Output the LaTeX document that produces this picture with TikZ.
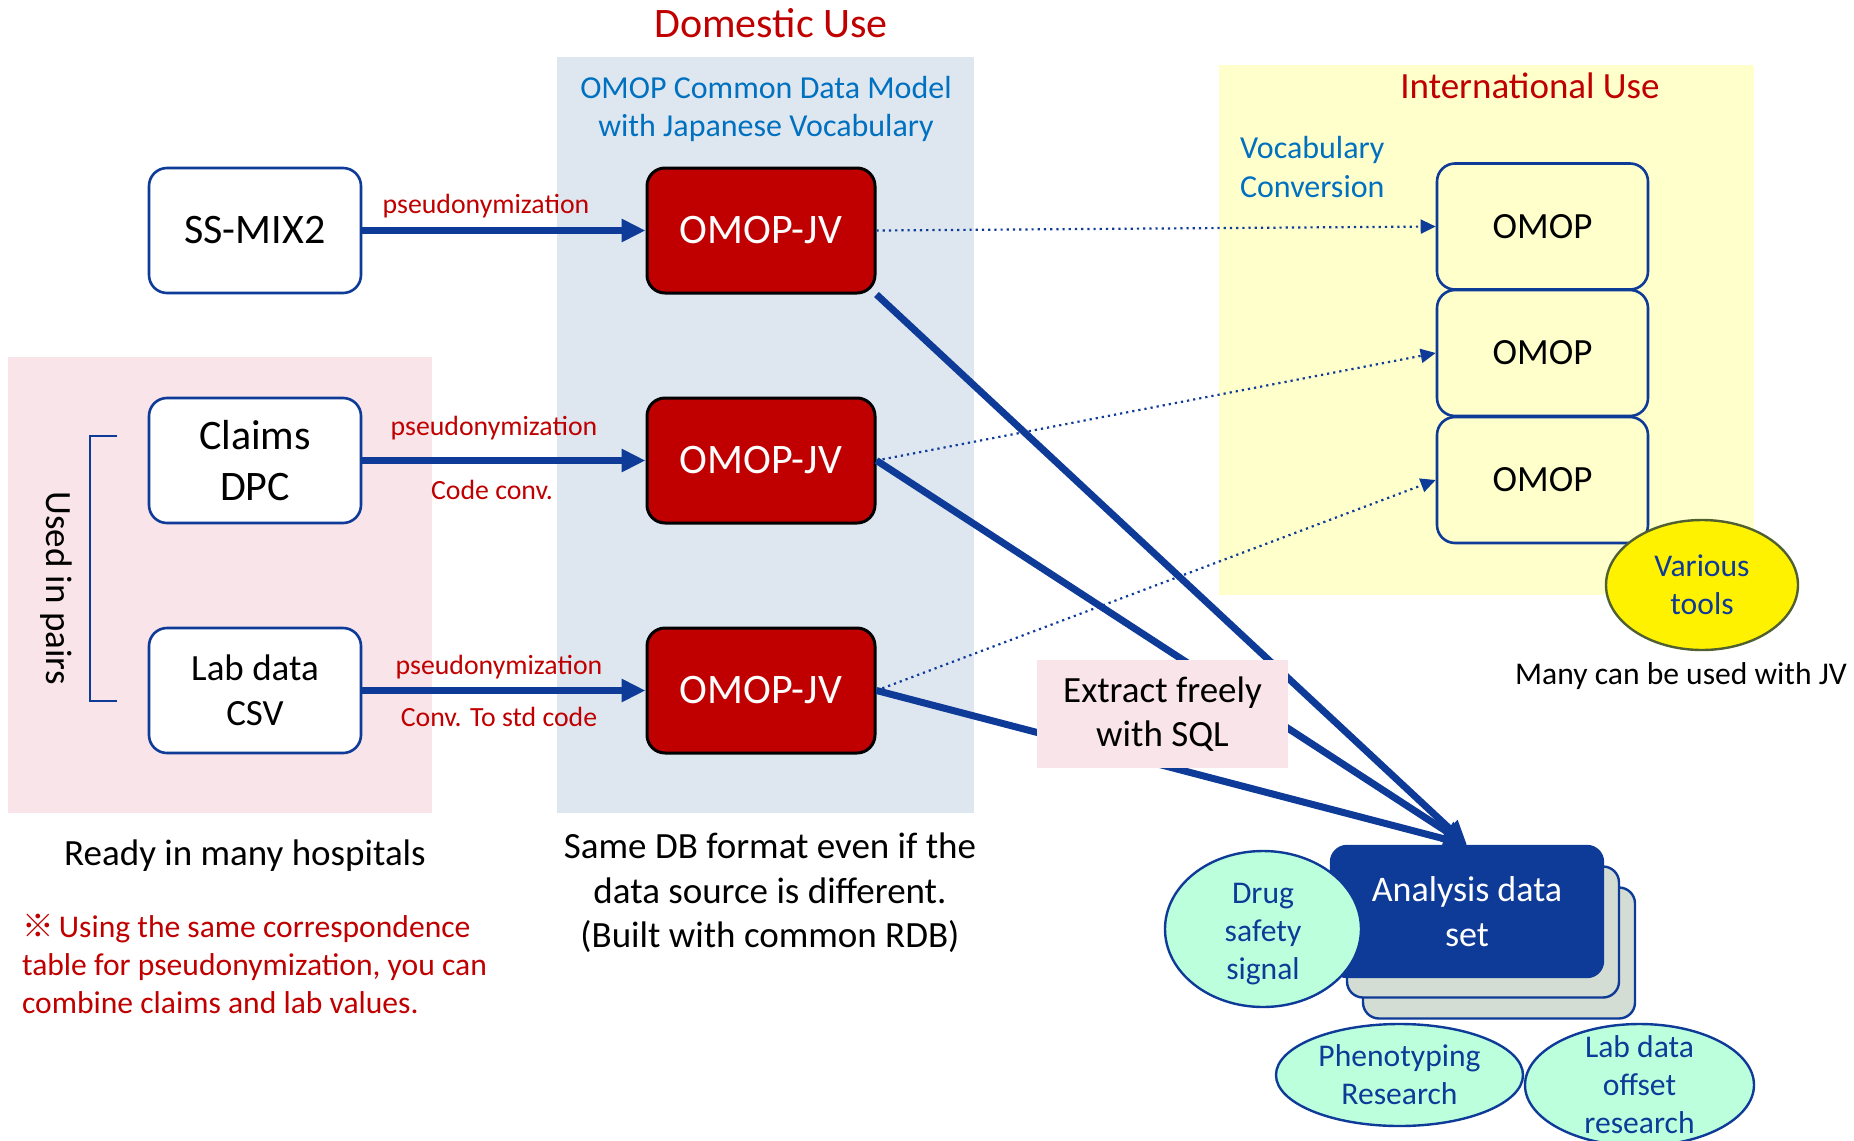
\documentclass[tikz,border=0pt]{standalone}
\usepackage{fontspec}
\setmainfont{Carlito}
\newfontfamily\cjkfont{Noto Sans CJK JP}
\usepackage{tikz}
\usetikzlibrary{shapes.geometric,arrows.meta,calc}
\definecolor{Navy}    {RGB}{14,58,152}
\definecolor{DarkRed} {RGB}{192,0,0}
\definecolor{SkyText} {RGB}{0,112,192}
\definecolor{PanBlue} {RGB}{222,231,240}
\definecolor{PanPink} {RGB}{248,228,233}
\definecolor{PanYel}  {RGB}{255,255,204}
\definecolor{MintFill}{RGB}{187,255,221}
\definecolor{StackBg} {RGB}{211,221,211}
\definecolor{ToolLine}{RGB}{80,96,48}
\newcommand{\fsz}[2]{\fontsize{#1pt}{#2pt}\selectfont}
\tikzset{
  nd_src/.style={
    rectangle, rounded corners=9pt,
    draw=Navy, line width=1.3pt, fill=white,
    minimum width=106pt, minimum height=62.5pt,
    align=center, font=\fsz{21}{25.2}},
  nd_jv/.style={
    rectangle, rounded corners=9pt,
    draw=black, line width=1.5pt, fill=DarkRed, text=white,
    minimum width=114pt, minimum height=62.5pt,
    align=center, font=\fsz{21}{25.2}},
  nd_omop/.style={
    rectangle, rounded corners=9pt,
    draw=Navy, line width=1.3pt, fill=PanYel,
    minimum width=105.5pt, minimum height=63pt,
    align=center, font=\fsz{18.5}{22.2}},
  nd_tool/.style={
    ellipse, draw=ToolLine, line width=1.2pt, fill=yellow,
    minimum width=96pt, minimum height=65pt, inner sep=0pt,
    align=center, text=Navy, font=\fsz{15.8}{19}},
  nd_use/.style={
    ellipse, draw=Navy, line width=1.2pt, fill=MintFill, inner sep=0pt},
  use_txt/.style={
    align=center, text=Navy, font=\fsz{15.8}{19}, inner sep=0pt},
  nd_set/.style={
    rectangle, rounded corners=8pt,
    draw=Navy, line width=1.2pt, fill=StackBg,
    minimum width=136pt, minimum height=65.5pt},
  nd_sql/.style={
    rectangle, fill=PanPink,
    minimum width=125.5pt, minimum height=54pt,
    align=center, font=\fsz{18.5}{22.2}},
  ttl/.style={text=DarkRed, font=\fsz{21}{25}},
  subhd/.style={text=SkyText, align=center, font=\fsz{16}{19.2}},
  txt/.style={align=center, font=\fsz{18.5}{22.2}},
  lbl/.style={text=DarkRed, font=\fsz{13.9}{16.7}, inner sep=1pt},
  arr/.style={-{Triangle[length=12pt,width=11pt]}, draw=Navy, line width=3.5pt},
  dotarr/.style={-{Triangle[length=7.5pt,width=7pt]}, draw=Navy, line width=1.1pt, dotted},
}

\begin{document}
\begin{tikzpicture}[x=0.5pt,y=-0.5pt]
\useasboundingbox (0,0) rectangle (1854,1141);

%% panels
\fill[PanBlue] (557,57) rectangle (974,813);
\fill[PanPink] (8,357) rectangle (432,813);
\fill[PanYel]  (1219,65) rectangle (1754,595);

\node[ttl] at (771,23) (tDom){Domestic Use};
\node[ttl, font=\fsz{18.5}{22}] at (1530,86) (tInt){International Use};
\node[subhd] at (766,109) (tCdm){OMOP Common Data Model\\with Japanese Vocabulary};
\node[subhd, align=left, anchor=west] at (1233,167) (tVoc){Vocabulary\\Conversion};

%% sources
\node[nd_src] at (255,230.5) (SS){SS-MIX2};
\node[nd_src] at (255,460.5) (CL){Claims\\DPC};
\node[nd_src, font=\fsz{18.5}{22.5}] at (255,690.5) (LB){Lab data\\CSV};

\node[txt, rotate=-90] at (56,588) (tPair){Used in pairs};
\draw[Navy, line width=0.6pt] (117,436) -- (90,436) -- (90,701) -- (117,701);

%% OMOP-JV
\node[nd_jv] at (761,230.5) (J1){OMOP-JV};
\node[nd_jv] at (761,460.5) (J2){OMOP-JV};
\node[nd_jv] at (761,690.5) (J3){OMOP-JV};

%% OMOP (international)
\node[nd_omop] at (1542.5,226.5) (O1){OMOP};
\node[nd_omop] at (1542.5,353)   (O2){OMOP};
\node[nd_omop] at (1542.5,480)   (O3){OMOP};
\node[nd_tool] at (1702,585) (VT){Various\\tools};
\node[txt, font=\fsz{15.8}{19}] at (1681,676) (tMany){Many can be used with JV};

\draw[arr] (SS) -- (J1);
\draw[arr] (CL.east) -- (J2.west);
\draw[arr] (LB.east) -- (J3.west);
\node[lbl] at (486,206) (p1){pseudonymization};
\node[lbl] at (494,428) (p2){pseudonymization};
\node[lbl] at (492,490) (c2){Code conv.};
\node[lbl] at (499,667) (p3){pseudonymization};
\node[lbl] at (499,717) (c3){Conv. To std code};

\draw[dotarr] (J1.east) -- (O1.west);
\draw[dotarr] (J2.east) -- (O2.west);
\draw[dotarr] (J3.east) -- (O3.west);

%% analysis data set
\node[nd_set] at (1499,953) (AD3){};
\node[nd_set] at (1483,932) (AD2){};
\node[nd_set, fill=Navy, text=white, align=center, font=\fsz{18}{22.2}]
  at (1467,911.5) (AD){Analysis data\\set};
\node[nd_use, minimum width=98pt, minimum height=78pt,
  label={[use_txt, yshift=-2.5pt]center:Drug\\safety\\signal}] at (1263,929) (DS){};
\node[nd_use, minimum width=123.5pt, minimum height=51pt,
  label={[use_txt]center:Phenotyping\\Research}] at (1399.5,1075) (PR){};
\node[nd_use, minimum width=114.5pt, minimum height=61pt,
  label={[use_txt]center:Lab data\\offset\\research}] at (1639.5,1085) (LO){};

\draw[arr] (J1.south east) -- (AD.north);
\draw[arr] (J2.east) -- (AD.north);
\draw[arr] (J3.east) -- (AD.north);
\node[nd_sql] at (1162.5,714) (SQL){Extract freely\\with SQL};

%% notes
\node[txt] at (245,856) (tReady){Ready in many hospitals};
\node[txt] at (770,893) (tSame){Same DB format even if the\\data source is different.\\(Built with common RDB)};
\node[txt, align=left, anchor=west, text=DarkRed, font=\fsz{15.8}{19}] at (15,964) (tNote)
  {{\cjkfont ※}\,Using the same correspondence\\table for pseudonymization, you can\\combine claims and lab values.};

\end{tikzpicture}
\end{document}
